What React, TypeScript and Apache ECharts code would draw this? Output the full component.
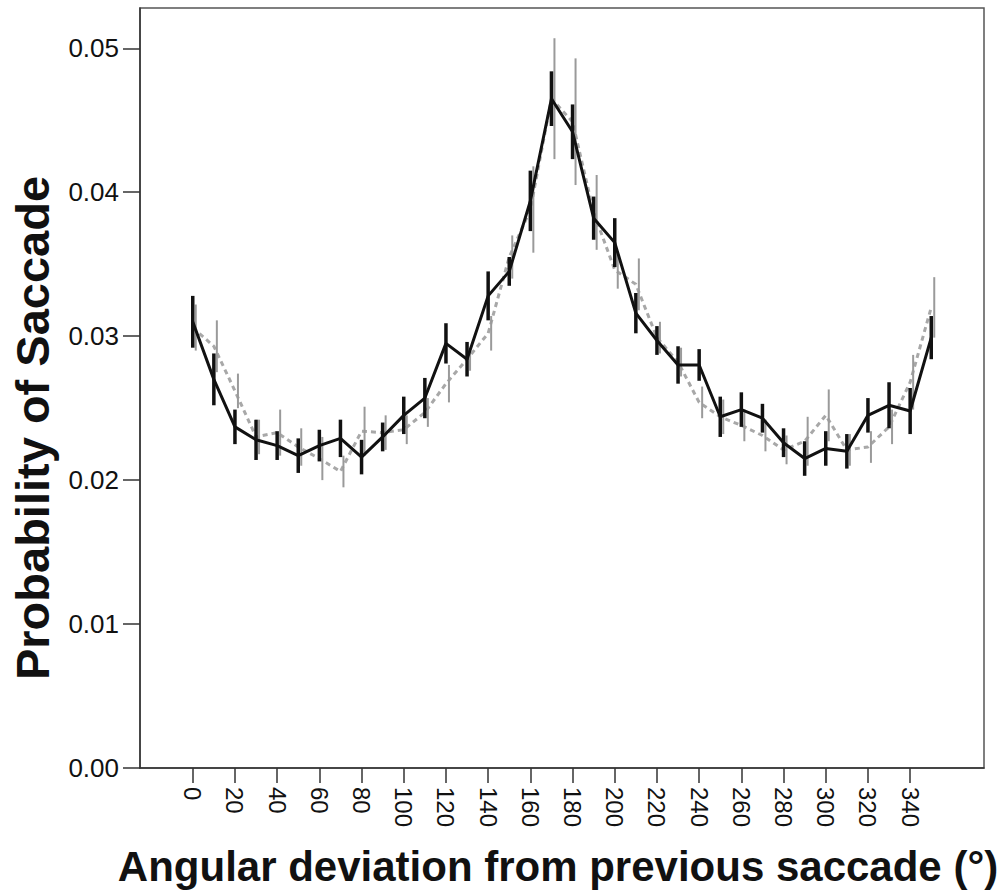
import React, { useEffect, useRef } from "react";
import * as echarts from "echarts";

const angles = [0, 10, 20, 30, 40, 50, 60, 70, 80, 90, 100, 110, 120, 130, 140, 150, 160, 170, 180, 190, 200, 210, 220, 230, 240, 250, 260, 270, 280, 290, 300, 310, 320, 330, 340, 350];
const tickAngles = [0, 20, 40, 60, 80, 100, 120, 140, 160, 180, 200, 220, 240, 260, 280, 300, 320, 340];
const yTicks = [0, 0.01, 0.02, 0.03, 0.04, 0.05];

const blackMean = [0.0310, 0.0270, 0.0237, 0.0228, 0.0224, 0.0217, 0.0224, 0.0229, 0.0216, 0.0230, 0.0245, 0.0257, 0.0295, 0.0284, 0.0328, 0.0345, 0.0394, 0.0465, 0.0442, 0.0382, 0.0365, 0.0316, 0.0297, 0.0280, 0.0280, 0.0244, 0.0249, 0.0243, 0.0226, 0.0215, 0.0222, 0.0220, 0.0245, 0.0252, 0.0248, 0.0299];
const blackErr = [0.0018, 0.0018, 0.0012, 0.0014, 0.0010, 0.0012, 0.0011, 0.0013, 0.0012, 0.0010, 0.0013, 0.0014, 0.0014, 0.0012, 0.0017, 0.0010, 0.0021, 0.0019, 0.0019, 0.0015, 0.0017, 0.0014, 0.0010, 0.0013, 0.0011, 0.0014, 0.0012, 0.0010, 0.0010, 0.0012, 0.0012, 0.0012, 0.0012, 0.0016, 0.0016, 0.0015];

const grayMean = [0.0306, 0.0293, 0.0262, 0.0230, 0.0233, 0.0223, 0.0215, 0.0206, 0.0234, 0.0233, 0.0235, 0.0247, 0.0267, 0.0284, 0.0302, 0.0355, 0.0388, 0.0465, 0.0449, 0.0386, 0.0346, 0.0336, 0.0299, 0.0282, 0.0254, 0.0244, 0.0238, 0.0231, 0.0221, 0.0227, 0.0245, 0.0221, 0.0223, 0.0237, 0.0268, 0.0320];
const grayErr = [0.0016, 0.0018, 0.0012, 0.0012, 0.0016, 0.0013, 0.0015, 0.0011, 0.0017, 0.0012, 0.0010, 0.0010, 0.0013, 0.0008, 0.0012, 0.0015, 0.0030, 0.0042, 0.0044, 0.0026, 0.0013, 0.0018, 0.0011, 0.0010, 0.0011, 0.0012, 0.0011, 0.0011, 0.0010, 0.0017, 0.0018, 0.0011, 0.0011, 0.0012, 0.0019, 0.0021];

const xTitle = "Angular deviation from previous saccade (°)";
const yTitle = "Probability of Saccade";

const FONT = "'Liberation Sans', Arial, Helvetica, sans-serif";

function errorSeries(name: string, mean: number[], err: number[], color: string, width: number, offset: number) {
  return {
    name,
    type: "custom",
    z: 3,
    data: angles.map((a, i) => [a, mean[i] - err[i], mean[i] + err[i]]),
    encode: { x: 0, y: [1, 2] },
    renderItem: (params: any, api: any) => {
      const x = api.value(0);
      const lo = api.coord([x, api.value(1)]);
      const hi = api.coord([x, api.value(2)]);
      return {
        type: "line",
        shape: { x1: lo[0] + offset, y1: lo[1], x2: hi[0] + offset, y2: hi[1] },
        style: { stroke: color, lineWidth: width },
      };
    },
  };
}

export default function App() {
  const ref = useRef<HTMLDivElement>(null);
  useEffect(() => {
    if (!ref.current) return;
    const chart = echarts.init(ref.current, null, { renderer: "svg" });
    chart.setOption({
      animation: false,
      backgroundColor: "#ffffff",
      grid: {
        left: 140,
        right: 16,
        top: 8,
        bottom: 124,
        show: true,
        borderColor: "#555555",
        borderWidth: 1.5,
        backgroundColor: "transparent",
      },
      xAxis: {
        type: "value",
        min: -25,
        max: 375,
        splitLine: { show: false },
        axisLine: { show: true, onZero: false, lineStyle: { color: "#333333", width: 1.5 } },
        axisTick: { show: true, length: 15, customValues: tickAngles, lineStyle: { color: "#333333", width: 1.5 } },
        axisLabel: {
          customValues: tickAngles,
          rotate: -90,
          margin: 19,
          fontSize: 24,
          fontFamily: FONT,
          color: "#111111",
        },
      },
      yAxis: {
        type: "value",
        min: 0,
        max: 0.0528,
        splitLine: { show: false },
        axisLine: { show: true, onZero: false, lineStyle: { color: "#333333", width: 1.5 } },
        axisTick: { show: true, length: 17, customValues: yTicks, lineStyle: { color: "#333333", width: 1.5 } },
        axisLabel: {
          customValues: yTicks,
          margin: 21,
          fontSize: 26,
          fontFamily: FONT,
          color: "#111111",
          formatter: (v: number) => v.toFixed(2),
        },
      },
      graphic: [
        {
          type: "text",
          x: 558,
          y: 866,
          style: {
            text: xTitle,
            font: `bold 42px ${FONT}`,
            fill: "#111111",
            textAlign: "center",
            textVerticalAlign: "middle",
          },
        },
        {
          type: "text",
          x: 32,
          y: 428,
          rotation: Math.PI / 2,
          style: {
            text: yTitle,
            font: `bold 47px ${FONT}`,
            fill: "#111111",
            textAlign: "center",
            textVerticalAlign: "middle",
          },
        },
      ],
      series: [
        {
          name: "gray",
          type: "line",
          z: 2,
          data: angles.map((a, i) => [a, grayMean[i]]),
          symbol: "none",
          lineStyle: { color: "#a8a8a8", width: 3, type: [5, 4] },
        },
        errorSeries("grayErr", grayMean, grayErr, "#9a9a9a", 2, 3),
        {
          name: "black",
          type: "line",
          z: 4,
          data: angles.map((a, i) => [a, blackMean[i]]),
          symbol: "none",
          lineStyle: { color: "#111111", width: 3 },
        },
        { ...errorSeries("blackErr", blackMean, blackErr, "#111111", 3.5, 0), z: 5 },
      ],
    });
    return () => chart.dispose();
  }, []);
  return (
    <div
      ref={ref}
      style={{ position: "absolute", left: 0, top: 0, width: 1000, height: 892, background: "#fff" }}
    />
  );
}
